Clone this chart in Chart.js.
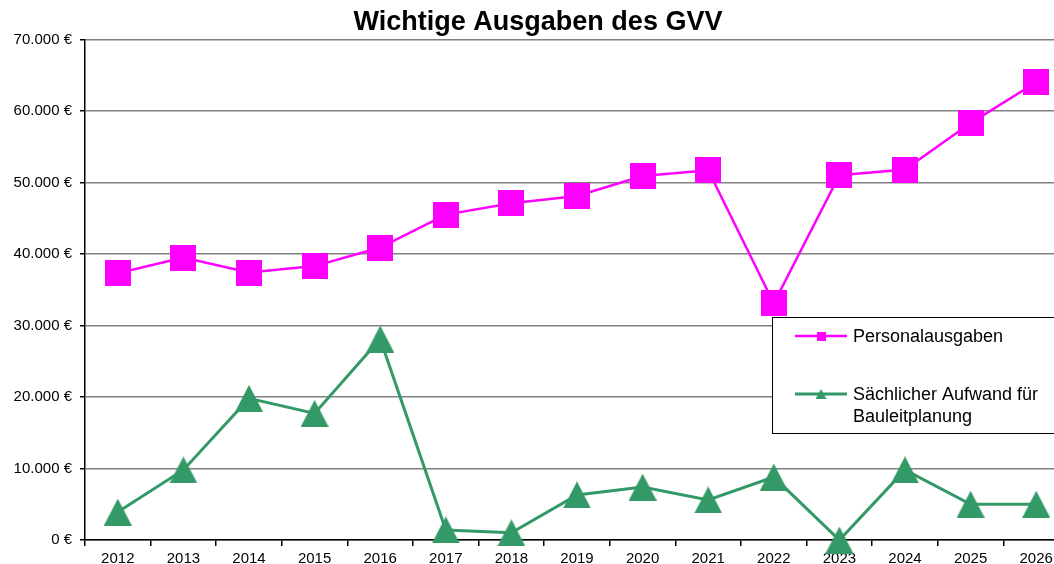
<!DOCTYPE html>
<html lang="de">
<head>
<meta charset="utf-8">
<title>Wichtige Ausgaben des GVV</title>
<script src="https://cdn.jsdelivr.net/npm/chart.js@4.4.1/dist/chart.umd.min.js"></script>
<style>
  html, body { margin: 0; padding: 0; background: #fff; overflow: hidden; }
  .wrap { width: 1076px; height: 564px; }
</style>
</head>
<body>
<div class="wrap"><canvas id="chartGVV" width="1076" height="564"></canvas></div>
<script>
// Daten

const years = ['2012', '2013', '2014', '2015', '2016', '2017', '2018', '2019', '2020', '2021', '2022', '2023', '2024', '2025', '2026'];
const personalausgaben = [37300, 39500, 37400, 38300, 40900, 45500, 47100, 48100, 50900, 51700, 33100, 51000, 51800, 58300, 64000];
const saechlicherAufwand = [3900, 9800, 19800, 17700, 28100, 1400, 1000, 6300, 7400, 5600, 8800, 0, 9800, 5000, 5000];
const seriesNames = ['Personalausgaben', 'Sächlicher Aufwand für Bauleitplanung'];
const yMax = 70000;
const yStep = 10000;

const fontFamily = '"Liberation Sans", Arial, sans-serif';
const magenta = '#ff00ff';
const green = '#339966';

// Marker

function makeSquare(size, color) {
  let c = document.createElement('canvas');
  c.width = size; c.height = size;
  let g = c.getContext('2d');
  g.fillStyle = color;
  g.fillRect(0, 0, size, size);
  return c;
}

function makeTriangle(w, h, color) {
  let c = document.createElement('canvas');
  c.width = w; c.height = h;
  let g = c.getContext('2d');
  g.fillStyle = color;
  g.beginPath();
  g.moveTo(w / 2, 0);
  g.lineTo(w, h);
  g.lineTo(0, h);
  g.closePath();
  g.fill();
  return c;
}

const squareBig = makeSquare(26, magenta);
const triangleBig = makeTriangle(28, 27, green);
const squareSmall = makeSquare(9, magenta);
const triangleSmall = makeTriangle(11, 10, green);

function euro(v) {
  return String(v).replace(/\B(?=(\d{3})+(?!\d))/g, '.') + ' €';
}

// Legende

const legendBox = {
  id: 'legendBox',
  afterDraw(chart) {
    const ctx = chart.ctx;
    const x = 772, y = 317, w = 310, h = 116;
    ctx.save();
    ctx.fillStyle = '#fff';
    ctx.fillRect(x, y, w, h);
    ctx.strokeStyle = '#000';
    ctx.lineWidth = 1;
    ctx.strokeRect(x + 0.5, y + 0.5, w, h);

    const entries = [
      { lineY: 336, color: magenta, width: 2.5, marker: squareSmall, lines: [seriesNames[0]] },
      { lineY: 394, color: green, width: 3, marker: triangleSmall, lines: ['Sächlicher Aufwand für', 'Bauleitplanung'] },
    ];
    ctx.font = '18px ' + fontFamily;
    ctx.textBaseline = 'middle';
    ctx.textAlign = 'left';
    entries.forEach(e => {
      ctx.strokeStyle = e.color;
      ctx.lineWidth = e.width;
      ctx.beginPath();
      ctx.moveTo(795, e.lineY);
      ctx.lineTo(847, e.lineY);
      ctx.stroke();
      ctx.drawImage(e.marker, 821 - e.marker.width / 2, e.lineY - e.marker.height / 2);
      ctx.fillStyle = '#000';
      e.lines.forEach((t, i) => ctx.fillText(t, 853, e.lineY + 1 + i * 22));
    });
    ctx.restore();
  }
};

// Diagramm

let ctxGVV = document.getElementById('chartGVV');

new Chart(ctxGVV, {
  type: 'line',
  data: {
    labels: years,
    datasets: [{
      label: seriesNames[0],
      data: personalausgaben,
      borderColor: magenta,
      backgroundColor: magenta,
      borderWidth: 2.5,
      pointStyle: squareBig,
      tension: 0,
      clip: false,
    }, {
      label: seriesNames[1],
      data: saechlicherAufwand,
      borderColor: green,
      backgroundColor: green,
      borderWidth: 3,
      pointStyle: triangleBig,
      tension: 0,
      clip: false,
    }]
  },
  options: {
    responsive: false,
    devicePixelRatio: 1,
    animation: false,
    layout: { padding: 0 },
    plugins: {
      legend: { display: false },
      tooltip: { enabled: false },
      title: {
        display: true,
        text: 'Wichtige Ausgaben des GVV',
        color: '#000',
        font: { family: fontFamily, size: 27, weight: 'bold' },
        padding: { top: 6, bottom: 1 },
      }
    },
    scales: {
      x: {
        offset: true,
        afterFit(scale) { scale.height = 24 },
        grid: { drawOnChartArea: false, offset: true, tickLength: 6, color: '#000', lineWidth: 1.5 },
        border: { color: '#000', width: 1.5 },
        ticks: { color: '#000', padding: 4, maxRotation: 0, autoSkip: false, font: { family: fontFamily, size: 15 } },
      },
      y: {
        min: 0,
        max: yMax,
        afterFit(scale) { scale.width = 85 },
        grid: { color: '#808080', lineWidth: 1.5, tickLength: 5, tickColor: '#000' },
        border: { color: '#000', width: 1.5 },
        ticks: {
          stepSize: yStep,
          color: '#000',
          padding: 8,
          font: { family: fontFamily, size: 15 },
          callback: v => euro(v),
        }
      }
    }
  },
  plugins: [legendBox]
});
</script>
</body>
</html>
